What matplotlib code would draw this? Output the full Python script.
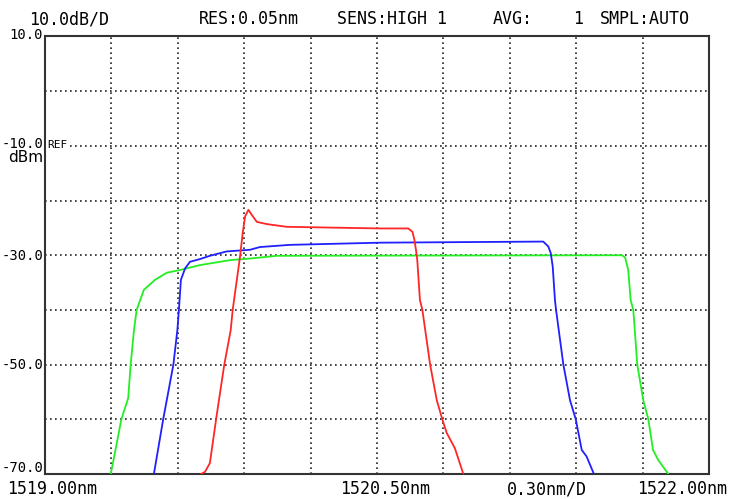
import matplotlib
matplotlib.use("Agg")
import matplotlib.pyplot as plt
import numpy as np

plt.rcParams["font.family"] = ["DejaVu Sans Mono", "DejaVu Sans"]

# wavelength span and level range of the OSA screen
X_START, X_STOP, X_DIV = 1519.00, 1522.00, 0.30
Y_TOP, Y_DIV, N_YDIV = 10.0, 10.0, 8

# traces: wavelength (nm) / level (dBm)
green_nm = [1519.297, 1519.316, 1519.345, 1519.376, 1519.387, 1519.402, 1519.414,
            1519.447, 1519.497, 1519.550, 1519.610, 1519.700, 1519.836, 1519.940,
            1520.047, 1521.606, 1521.621, 1521.635, 1521.646, 1521.658, 1521.676,
            1521.703, 1521.726, 1521.747, 1521.770, 1521.816]
green_db = [-70.0, -66.1, -60.0, -56.1, -50.0, -43.7, -40.0,
            -36.3, -34.5, -33.2, -32.7, -31.8, -30.9, -30.55,
            -30.1, -30.0, -30.4, -32.7, -38.2, -40.0, -50.0,
            -56.5, -60.0, -65.6, -67.4, -70.0]

blue_nm = [1519.492, 1519.534, 1519.580, 1519.598, 1519.605, 1519.614, 1519.633,
           1519.655, 1519.700, 1519.745, 1519.821, 1519.926, 1519.971, 1520.107,
           1520.514, 1520.875, 1521.251, 1521.274, 1521.285, 1521.294, 1521.304,
           1521.309, 1521.342, 1521.372, 1521.398, 1521.425, 1521.447, 1521.480]
blue_db = [-70.0, -60.0, -50.0, -43.7, -40.0, -34.5, -32.4,
           -31.2, -30.7, -30.1, -29.3, -29.0, -28.5, -28.1,
           -27.7, -27.6, -27.5, -28.4, -29.6, -32.1, -38.2,
           -40.0, -50.0, -56.5, -60.0, -65.6, -66.8, -70.0]

red_nm = [1519.705, 1519.723, 1519.745, 1519.773, 1519.810, 1519.839, 1519.848,
          1519.881, 1519.893, 1519.904, 1519.919, 1519.934, 1519.957, 1520.002,
          1520.092, 1520.514, 1520.641, 1520.660, 1520.669, 1520.676, 1520.682,
          1520.694, 1520.705, 1520.740, 1520.770, 1520.795, 1520.815, 1520.852,
          1520.890]
red_db = [-70.0, -69.6, -68.0, -60.0, -50.0, -43.7, -40.0,
          -30.3, -26.0, -22.9, -21.7, -22.6, -23.9, -24.3,
          -24.8, -25.1, -25.1, -25.7, -27.2, -29.0, -30.9,
          -38.2, -40.0, -50.0, -56.5, -60.0, -62.5, -65.3,
          -70.0]

ylabels = ["10.0", "-10.0", "-30.0", "-50.0", "-70.0"]
header = [("10.0dB/D", 29), ("RES:0.05nm", 199), ("SENS:HIGH 1", 337),
          ("AVG:", 493), ("1", 573), ("SMPL:AUTO", 600)]
footer = [("1519.00nm", 7, "left"), ("1520.50nm", 340, "left"),
          ("0.30nm/D", 507, "left"), ("1522.00nm", 727, "right")]

W, H = 730, 499
fig = plt.figure(figsize=(W / 100, H / 100), dpi=100)
ax = fig.add_axes([45 / W, 1 - 474 / H, 664 / W, (474 - 36.5) / H])

y_bot = Y_TOP - Y_DIV * N_YDIV
ax.set_xlim(X_START, X_STOP)
ax.set_ylim(y_bot, Y_TOP)
ax.set_xticks(np.linspace(X_START, X_STOP, 11))
ax.set_yticks(np.linspace(y_bot, Y_TOP, N_YDIV + 1))
ax.tick_params(length=0, labelbottom=False, labelleft=False)
ax.grid(True, color="#222222", linestyle=(0, (1, 2)), linewidth=1.2)
for s in ax.spines.values():
    s.set_color("#333333")
    s.set_linewidth(1.5)

ax.plot(green_nm, green_db, color="#22ee22", lw=1.3, zorder=3)
ax.plot(blue_nm, blue_db, color="#2020ff", lw=1.3, zorder=4)
ax.plot(red_nm, red_db, color="#ff2626", lw=1.3, zorder=5)


def px(x, y, s, **kw):
    fig.text(x / W, 1 - y / H, s, **kw)


fs = 12
for s, x in header:
    px(x, 19, s, fontsize=fs, va="center", ha="left")
for s, x, ha in footer:
    px(x, 489, s, fontsize=fs, va="center", ha=ha)

ypos = [35, 144, 256, 365, 468]
for s, y in zip(ylabels, ypos):
    px(43, y, s, fontsize=10, va="center", ha="right")
px(43, 157, "dBm", fontsize=11, va="center", ha="right", family="DejaVu Sans")
px(47, 144.5, "REF", fontsize=8, va="center", ha="left",
   bbox=dict(facecolor="white", edgecolor="none", pad=0.5))

fig.savefig("out.png", dpi=100)
